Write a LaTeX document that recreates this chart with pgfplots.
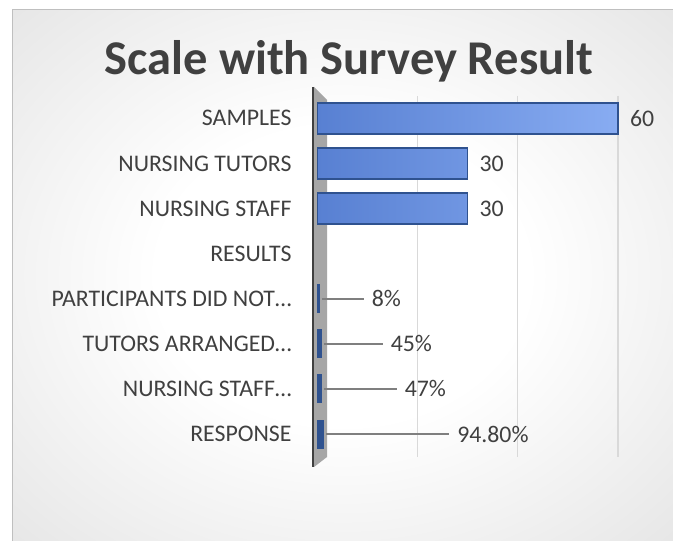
\documentclass[border=0pt]{standalone}
\usepackage{pgfplots}
\pgfplotsset{compat=1.18}
\usepackage{pgfplotstable}
\usepackage{fontspec}
\setmainfont{Carlito}
\definecolor{txt}{HTML}{404040}
\definecolor{barL}{HTML}{5880D2}
\definecolor{barR}{HTML}{88ACF2}
\definecolor{barE}{HTML}{2F528F}
\definecolor{smallF}{HTML}{3A64BE}
\definecolor{gridc}{HTML}{D9D9D9}
\definecolor{lead}{HTML}{7F7F7F}
\definecolor{bordc}{HTML}{BFBFBF}
\definecolor{bgouter}{HTML}{C4C4C4}
\definecolor{bgmid}{HTML}{D6D6D6}
\definecolor{wallc}{HTML}{A6A6A6}
\pgfdeclareradialshading{bgshade}{\pgfpoint{0bp}{0bp}}{color(0bp)=(white); color(14bp)=(white); color(50bp)=(bgmid); color(72bp)=(bgouter)}

\protected\def\leader#1#2{\textcolor{lead}{\rule[0.3em]{#1bp}{1.6bp}}\hspace{8bp}#2\%}

\pgfplotstableread{
y val lab
0 60 60
1 30 30
2 30 30
}\bigdata
\pgfplotstableread{
y val lab
4 0.08 \leader{42}{8}
5 0.45 \leader{59}{45}
6 0.47 \leader{73}{47}
7 0.948 \leader{123}{94.80}
}\pctdata

\newcommand{\lblfont}{\fontsize{23.8bp}{28bp}\selectfont}

\begin{document}
\begin{tikzpicture}[x=1bp,y=1bp]
\fill[white] (0,0) rectangle (673,541);
\shade[shading=bgshade] (12,0) rectangle (673,531);
\draw[bordc, line width=1bp] (12,0) -- (12,531) -- (673,531);
% wall
\fill[wallc] (314,454) -- (327,441) -- (327,84) -- (314,74) -- cycle;
\draw[txt, line width=2.2bp] (313,454) -- (313,74);
\node[font=\fontsize{48.5bp}{56bp}\selectfont\bfseries, text=txt, anchor=base] at (349,466) {Scale with Survey Result};
\begin{axis}[
  at={(317bp,84.4bp)}, anchor=south west, scale only axis,
  width=331bp, height=360.8bp,
  xmin=0, xmax=66, ymin=-0.5, ymax=7.5, y dir=reverse,
  axis line style={draw=none},
  xtick={20,40,60}, xticklabel=\empty,
  xmajorgrids, major grid style={gridc, line width=1.4bp},
  ytick={0,1,2,3,4,5,6,7},
  yticklabels={SAMPLES\hspace{0.3em}, NURSING TUTORS, NURSING STAFF\hspace{0.3em}, RESULTS, PARTICIPANTS DID NOT…, TUTORS ARRANGED…, NURSING STAFF…, RESPONSE\hspace{0.3em}},
  major tick style={draw=none},
  yticklabel style={xshift=-22bp, font=\lblfont, text=txt},
]
\addplot[xbar, bar width=31bp, bar shift=0pt, draw=barE, line width=1.6bp,
  left color=barL, right color=barR,
  point meta=explicit symbolic,
  nodes near coords,
  nodes near coords style={anchor=west, xshift=8bp, font=\lblfont, text=txt}]
  table[x=val, y=y, meta=lab]{\bigdata};
\addplot[xbar, bar width=24bp, bar shift=0pt, draw=barE, line width=5bp,
  fill=smallF,
  point meta=explicit symbolic,
  nodes near coords,
  nodes near coords style={anchor=west, inner xsep=0pt, xshift=2bp, font=\lblfont, text=txt}]
  table[x=val, y=y, meta=lab]{\pctdata};
\end{axis}
\pgfresetboundingbox
\path (0,0) rectangle (673,541);
\end{tikzpicture}
\end{document}
